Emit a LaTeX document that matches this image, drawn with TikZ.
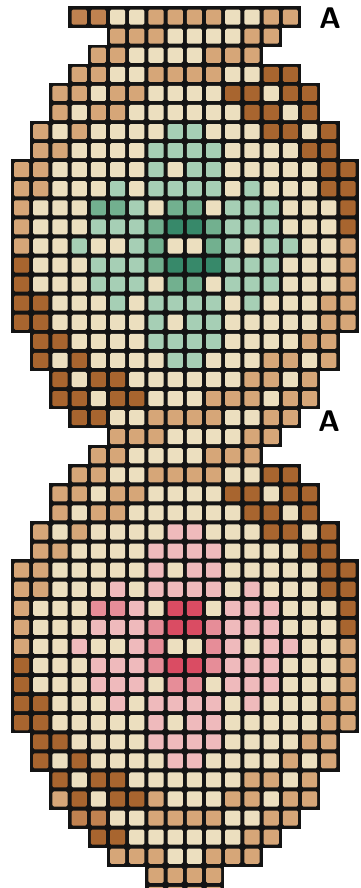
\documentclass[tikz,border=0pt]{standalone}
\usepackage{tikz}

\definecolor{cC}{HTML}{ECDFBF}
\definecolor{cT}{HTML}{D6A678}
\definecolor{cM}{HTML}{C08250}
\definecolor{cD}{HTML}{A8652F}
\definecolor{cg}{HTML}{A6CFB5}
\definecolor{cG}{HTML}{72B08F}
\definecolor{cH}{HTML}{37896A}
\definecolor{cp}{HTML}{EFBABC}
\definecolor{cP}{HTML}{E68D98}
\definecolor{cR}{HTML}{DA4C63}

\tikzset{
  gridcell/.style={fill=black!92},
  stitch/.style={rounded corners=0.8pt},
  mark label/.style={font=\fontsize{17}{18}\selectfont\sffamily\bfseries}
}

\begin{document}
\begin{tikzpicture}[x=0.384cm,y=-0.3814cm]
  \useasboundingbox (-0.625,-0.3985) rectangle (18.125,46.167);
  \clip (-0.625,-0.3985) rectangle (18.125,46.167);

  % Rows of the chart: row / first column / colours
  \foreach \r/\s/\row in {
    0/3/{M,M,C,C,T,T,T,T,C,C,T,T},
    1/5/{T,T,T,C,C,C,C,T,T},
    2/4/{T,T,C,C,C,C,T,T,T},
    3/3/{T,T,C,C,T,T,T,T,C,C,D,D},
    4/2/{T,T,C,T,T,C,C,C,C,D,D,C,D,D},
    5/2/{T,C,T,T,C,C,C,C,C,C,D,D,C,D},
    6/1/{T,C,T,C,C,C,C,g,g,C,C,C,D,D,C,D},
    7/1/{T,T,C,C,C,C,g,g,g,g,C,C,C,C,D,D},
    8/0/{T,T,C,C,C,C,C,g,C,g,g,C,C,C,C,C,D,D},
    9/0/{T,T,C,C,C,g,C,g,g,g,g,C,g,C,C,C,D,D},
    10/0/{T,C,C,C,G,G,g,C,G,G,C,g,g,g,C,C,C,D},
    11/0/{T,C,C,C,g,g,g,G,H,H,G,g,g,g,C,C,C,D},
    12/0/{T,C,C,g,C,C,g,G,C,C,G,g,C,g,g,C,C,T},
    13/0/{D,C,C,C,g,g,g,G,H,H,H,g,g,g,C,C,C,T},
    14/0/{D,C,C,C,g,g,g,C,G,G,C,g,g,g,C,C,C,T},
    15/0/{D,D,C,C,C,g,C,g,g,g,g,C,g,C,C,C,T,T},
    16/0/{D,D,C,C,C,C,C,g,C,g,g,C,C,C,C,C,T,T},
    17/1/{D,D,C,C,C,C,g,g,g,g,C,C,C,C,T,T},
    18/1/{D,C,D,C,C,C,C,g,g,C,C,C,T,T,C,T},
    19/2/{D,C,D,D,C,C,C,C,C,C,T,T,C,T},
    20/2/{D,D,C,D,D,C,C,C,T,T,T,C,T,T},
    21/3/{D,D,C,C,T,T,T,T,C,C,T,T},
    22/5/{T,T,T,C,C,C,C,T,T},
    23/4/{T,T,C,C,C,C,T,T,T},
    24/3/{T,T,C,C,T,T,T,T,C,C,D,D},
    25/2/{T,T,C,T,T,C,C,C,C,D,D,C,D,D},
    26/2/{T,C,T,T,C,C,C,C,C,C,D,D,C,D},
    27/1/{T,C,T,C,C,C,C,p,p,C,C,C,D,D,C,D},
    28/1/{T,T,C,C,C,C,p,p,p,p,C,C,C,C,D,D},
    29/0/{T,T,C,C,C,C,C,p,C,p,p,C,C,C,C,C,D,D},
    30/0/{T,T,C,C,C,p,C,p,p,p,p,C,p,C,C,C,D,D},
    31/0/{T,C,C,C,P,P,p,C,R,R,C,p,p,p,C,C,C,D},
    32/0/{T,C,C,C,p,p,p,P,R,R,P,p,p,p,C,C,C,D},
    33/0/{T,C,C,p,C,C,p,P,C,C,P,p,C,p,p,C,C,T},
    34/0/{D,C,C,C,p,p,p,P,R,R,P,p,p,p,C,C,C,T},
    35/0/{D,C,C,C,p,p,p,C,P,P,C,p,p,p,C,C,C,T},
    36/0/{D,D,C,C,C,p,C,p,p,p,p,C,p,C,C,C,T,T},
    37/0/{D,D,C,C,C,C,C,p,C,p,p,C,C,C,C,C,T,T},
    38/1/{D,D,C,C,C,C,p,p,p,p,C,C,C,C,T,T},
    39/1/{D,C,D,C,C,C,C,p,p,C,C,C,C,T,C,T},
    40/2/{D,C,D,D,C,C,C,C,C,C,T,T,C,T},
    41/2/{T,D,C,D,D,T,C,C,C,T,T,C,T,T},
    42/3/{M,M,C,C,T,T,T,T,C,C,T,T},
    43/4/{D,D,C,C,C,C,C,C,T,T},
    44/5/{T,T,T,C,C,T,T,T},
    45/7/{T,T,T,T},
    46/7/{T,T,T,T}}{
    \foreach \k [count=\i from \s] in \row {
      \fill[gridcell] (\i-0.06,\r-0.06) rectangle (\i+1.06,\r+1.06);
      \fill[stitch,fill=c\k] (\i+0.105,\r+0.105) rectangle (\i+0.895,\r+0.895);
    }
  }

  % Marks at the side
  \node[mark label] (markA) at (16.56,0.55) {A};
  \node[mark label] (markB) at (16.51,21.68) {A};
\end{tikzpicture}
\end{document}
